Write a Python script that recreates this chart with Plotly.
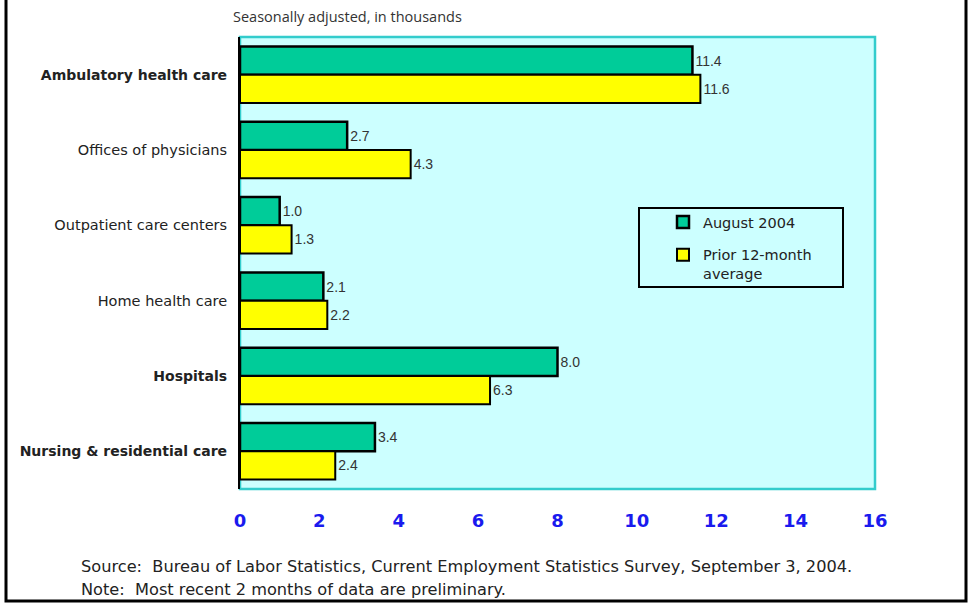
import plotly.graph_objects as go

categories = ["Ambulatory health care", "Offices of physicians", "Outpatient care centers",
              "Home health care", "Hospitals", "Nursing & residential care"]
bold_flags = [True, False, False, False, True, True]
aug_2004 = [11.4, 2.7, 1.0, 2.1, 8.0, 3.4]
prior_avg = [11.6, 4.3, 1.3, 2.2, 6.3, 2.4]
x_ticks = [0, 2, 4, 6, 8, 10, 12, 14, 16]

ticktext = [f"<span style='font-size:14px'><b>{c}</b></span>" if b else c
            for c, b in zip(categories, bold_flags)]

W, H = 969, 608
L, R, T, B = 240, 94, 37, 119
pw, ph = W - L - R, H - T - B


def px_x(p):
    return (p - L) / pw


def px_y(p):
    return (H - B - p) / ph


fig = go.Figure()
fig.add_trace(go.Bar(
    y=categories, x=aug_2004, orientation="h", name="August 2004", legendgroup="a",
    marker=dict(color="#00CC99", line=dict(color="black", width=2.5)),
    text=[f"{v:.1f}" for v in aug_2004], textposition="outside",
    textfont=dict(size=14, color="#333333", family="Liberation Sans"),
    cliponaxis=False,
))
fig.add_trace(go.Bar(
    y=categories, x=prior_avg, orientation="h", name="Prior 12-month<br>average", legendgroup="b",
    marker=dict(color="#FFFF00", line=dict(color="black", width=2)),
    text=[f"{v:.1f}" for v in prior_avg], textposition="outside",
    textfont=dict(size=14, color="#333333", family="Liberation Sans"),
    cliponaxis=False,
))

fig.update_layout(
    width=W, height=H,
    margin=dict(l=L, r=R, t=T, b=B),
    paper_bgcolor="white", plot_bgcolor="#CCFFFF",
    barmode="group", bargap=0.25, bargroupgap=0.0,
    font=dict(family="DejaVu Sans", size=14, color="#222222"),
    showlegend=True,
    legend=dict(
        x=px_x(663), y=px_y(206), xanchor="left", yanchor="top",
        bgcolor="rgba(0,0,0,0)", borderwidth=0,
        font=dict(size=14.5, color="#222222", family="DejaVu Sans"),
        traceorder="grouped", tracegroupgap=11, valign="top",
    ),
    xaxis=dict(
        range=[0, 16], tickvals=x_ticks, ticktext=[f"<b>{t}</b>" for t in x_ticks],
        tickfont=dict(size=18, color="#1A1AEE", family="DejaVu Sans"),
        showgrid=False, zeroline=False, showline=False, ticks="", ticklen=0,
        ticklabelstandoff=19,
    ),
    yaxis=dict(
        categoryorder="array", categoryarray=categories, autorange="reversed",
        tickvals=categories, ticktext=ticktext,
        tickfont=dict(size=14.5, color="#222222", family="DejaVu Sans"),
        showgrid=False, zeroline=False, showline=True, linecolor="black", linewidth=2,
        ticks="", ticklabelstandoff=8,
    ),
    shapes=[
        dict(type="rect", xref="paper", yref="paper", x0=0, x1=1, y0=0, y1=1,
             line=dict(color="#33CCCC", width=2.5), layer="below"),
        dict(type="rect", xref="paper", yref="paper",
             x0=px_x(639), x1=px_x(843), y0=px_y(287), y1=px_y(208),
             line=dict(color="black", width=2), layer="above"),
        dict(type="rect", xref="paper", yref="paper",
             x0=px_x(6), x1=px_x(966), y0=px_y(601), y1=px_y(-10),
             line=dict(color="black", width=3)),
    ],
    annotations=[
        dict(text="Seasonally adjusted, in thousands", xref="paper", yref="paper",
             x=px_x(231), y=px_y(17), xanchor="left", yanchor="middle", showarrow=False,
             font=dict(size=14.5, color="#333333", family="Open Sans")),
        dict(text="Source:  Bureau of Labor Statistics, Current Employment Statistics Survey, September 3, 2004.",
             xref="paper", yref="paper", x=px_x(79), y=px_y(566), xanchor="left", yanchor="middle",
             showarrow=False, font=dict(size=16.2, color="#222222", family="DejaVu Sans")),
        dict(text="Note:  Most recent 2 months of data are preliminary.",
             xref="paper", yref="paper", x=px_x(79), y=px_y(589), xanchor="left", yanchor="middle",
             showarrow=False, font=dict(size=16.2, color="#222222", family="DejaVu Sans")),
    ],
)

fig.write_html("out.html")
